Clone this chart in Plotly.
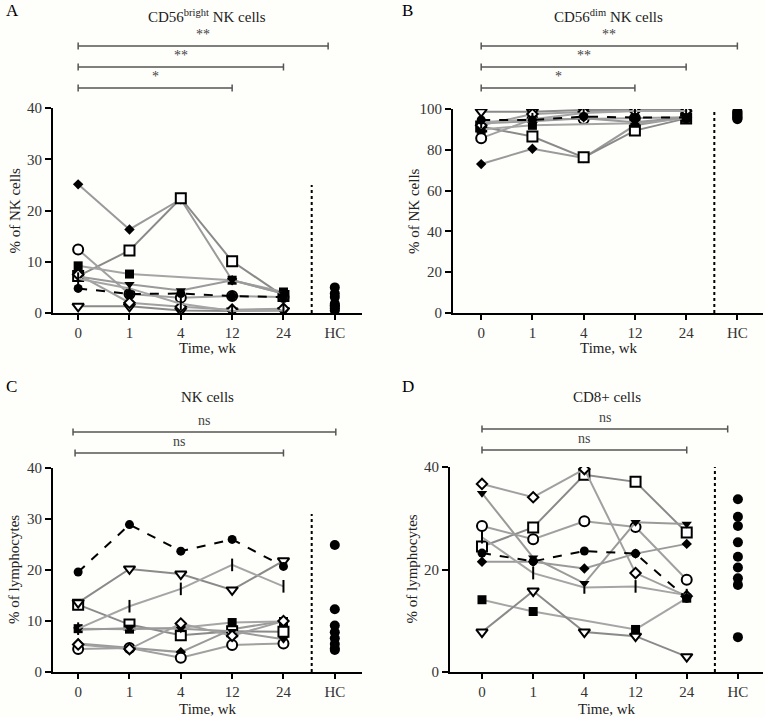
import plotly.graph_objects as go

# ---------------- data ----------------
TIME_LABELS = ["0", "1", "4", "12", "24"]
HC_LABEL = "HC"

# Panel A: CD56bright NK cells (% of NK cells)
A_P1 = [25.1, 16.3, 22.2, 6.4, 3.8]
A_P2 = [7.2, 12.2, 22.4, 10.1, 3.3]
A_P3 = [12.4, 3.7, 3.0, 3.3, 3.1]
A_P4 = [9.2, 7.6, None, 6.4, 4.1]
A_P5 = [4.8, 3.7, 3.8, 3.3, 3.1]
A_P6 = [1.3, 1.3, 0.5, 0.4, 0.5]
A_P7 = [7.1, 5.6, 4.4, 6.4, 3.8]
A_P8 = [7.5, 2.0, 1.2, 0.65, 0.85]
A_P9 = [6.7, 4.8, 1.8, 0.4, 0.5]
A_HC = [5.0, 3.8, 3.1, 1.8, 1.5, 1.2, 0.9, 0.5]

# Panel B: CD56dim NK cells (% of NK cells)
B_P1 = [73.0, 80.5, 76.0, 92.0, 96.0]
B_P2 = [91.4, 86.5, 76.3, 89.4, 95.4]
B_P3 = [85.7, 95.0, 95.1, 95.5, 96.0]
B_P4 = [90.0, 92.0, None, 93.0, 95.5]
B_P5 = [94.6, 94.6, 96.3, 95.8, 95.8]
B_P6 = [98.7, 98.7, 99.5, 99.5, 99.5]
B_P7 = [93.0, 94.0, 95.5, 93.5, 96.0]
B_P8 = [92.0, 97.5, 98.5, 99.0, 99.0]
B_P9 = [93.5, 95.0, 98.0, 99.0, 99.0]
B_HC = [99.0, 98.5, 98.0, 97.5, 97.0, 96.5, 96.0, 95.5, 95.0]

# Panel C: NK cells (% of lymphocytes)
C_P1 = [5.6, 4.7, 3.9, 8.4, 10.0]
C_P2 = [13.2, 9.3, 7.2, 8.0, 7.9]
C_P3 = [4.5, 4.7, 2.8, 5.3, 5.6]
C_P4 = [8.5, 8.4, 8.7, 9.7, 9.9]
C_P5 = [19.6, 28.9, 23.7, 26.0, 20.7]
C_P6 = [13.6, 20.2, 19.2, 16.1, 21.8]
C_P7 = [8.3, 8.6, 8.5, 8.0, 6.4]
C_P8 = [5.4, 4.5, 9.5, 7.1, 10.0]
C_P9 = [8.5, 12.9, 16.3, 21.0, 16.8]
C_HC = [24.9, 12.3, 9.1, 7.8, 6.6, 5.5, 4.6, 4.3]

# Panel D: CD8+ cells (% of lymphocytes)
D_P1 = [21.5, 21.5, 20.2, 23.1, 25.0]
D_P2 = [24.5, 28.2, 38.5, 37.1, 27.2]
D_P3 = [28.5, 25.9, 29.4, 28.3, 18.0]
D_P4 = [14.1, 11.8, None, 8.3, 14.4]
D_P5 = [23.2, 21.6, 23.6, 23.1, 14.4]
D_P6 = [7.8, 15.8, 7.8, 7.0, 3.0]
D_P7 = [34.9, 22.3, 17.3, 29.2, 28.9]
D_P8 = [36.7, 34.1, 39.6, 19.3, 14.8]
D_P9 = [26.3, 19.3, 16.5, 16.7, 15.0]
D_HC = [33.7, 30.3, 28.5, 25.3, 22.5, 20.4, 18.3, 17.0, 6.8]

# ---------------- styles ----------------
FONT = "Liberation Serif"
BG = "#fefefb"

STYLE = {
    "P1": dict(symbol="diamond", size=8, color="black", lw=0, line="#9a9a9a"),
    "P2": dict(symbol="square", size=10, color="white", lw=2, line="#8a8a8a"),
    "P3": dict(symbol="circle", size=10, color="white", lw=2, line="#a0a0a0"),
    "P4": dict(symbol="square", size=9, color="black", lw=0, line="#a5a5a5"),
    "P5": dict(symbol="circle", size=9, color="black", lw=0, line="black", dash="dash"),
    "P6": dict(symbol="triangle-down", size=10, color="white", lw=2, line="#8a8a8a"),
    "P7": dict(symbol="triangle-down", size=9, color="black", lw=0, line="#9a9a9a"),
    "P8": dict(symbol="diamond", size=8, color="white", lw=2, line="#a0a0a0"),
    "P9": dict(symbol="line-ns", size=9, color="black", lw=2, line="#a5a5a5"),
}

DRAW_ORDER = ["P1", "P2", "P3", "P4", "P6", "P7", "P8", "P9", "P5"]

PANELS = [
    dict(key="A", series=dict(P1=A_P1, P2=A_P2, P3=A_P3, P4=A_P4, P5=A_P5, P6=A_P6, P7=A_P7, P8=A_P8, P9=A_P9),
         hc=A_HC, title="CD56<sup>bright</sup> NK cells", ytitle="% of NK cells",
         yrange=[0, 40], ytick=10, xdom=[53, 362], ydom=[313, 108], xr=[-0.49, 5.53],
         dotted_top=25, title_y=16, xlabel_y=348,
         brackets=[(0, 4.87, 46, "**"), (0, 4.0, 67, "**"), (0, 3.0, 88, "*")],
         letter_xy=(4, 10)),
    dict(key="B", series=dict(P1=B_P1, P2=B_P2, P3=B_P3, P4=B_P4, P5=B_P5, P6=B_P6, P7=B_P7, P8=B_P8, P9=B_P9),
         hc=B_HC, title="CD56<sup>dim</sup> NK cells", ytitle="% of NK cells",
         yrange=[0, 100], ytick=20, xdom=[453, 763], ydom=[313, 109], xr=[-0.55, 5.5],
         dotted_top=100, title_y=16, xlabel_y=348,
         brackets=[(0, 5.0, 46, "**"), (0, 4.0, 67, "**"), (0, 3.0, 88, "*")],
         letter_xy=(400, 10)),
    dict(key="C", series=dict(P1=C_P1, P2=C_P2, P3=C_P3, P4=C_P4, P5=C_P5, P6=C_P6, P7=C_P7, P8=C_P8, P9=C_P9),
         hc=C_HC, title="NK cells", ytitle="% of lymphocytes",
         yrange=[0, 40], ytick=10, xdom=[53, 362], ydom=[672, 468], xr=[-0.49, 5.53],
         dotted_top=31, title_y=397, xlabel_y=709,
         brackets=[(-0.1, 5.02, 432, "ns"), (-0.06, 4.0, 453, "ns")],
         letter_xy=(4, 386)),
    dict(key="D", series=dict(P1=D_P1, P2=D_P2, P3=D_P3, P4=D_P4, P5=D_P5, P6=D_P6, P7=D_P7, P8=D_P8, P9=D_P9),
         hc=D_HC, title="CD8+ cells", ytitle="% of lymphocytes",
         yrange=[0, 40], ytick=20, xdom=[450, 763], ydom=[672, 467], xr=[-0.625, 5.49],
         dotted_top=40, title_y=397, xlabel_y=709,
         brackets=[(0, 4.8, 429, "ns"), (0, 4.0, 450, "ns")],
         letter_xy=(400, 386)),
]

W, H = 765, 717


def px_x(p):
    return p / W


def px_y(p):
    return 1 - p / H


fig = go.Figure()
shapes = []
annotations = []
x_positions = list(range(len(TIME_LABELS)))
hc_pos = len(TIME_LABELS)
tick_text = TIME_LABELS + [HC_LABEL]

for i, pnl in enumerate(PANELS):
    n = "" if i == 0 else str(i + 1)
    xa, ya = "x" + n, "y" + n
    for pid in DRAW_ORDER:
        st = STYLE[pid]
        fig.add_trace(go.Scatter(
            x=x_positions, y=pnl["series"][pid], xaxis=xa, yaxis=ya,
            mode="lines+markers", connectgaps=True, showlegend=False,
            line=dict(color=st["line"], width=2, dash=st.get("dash", "solid")),
            marker=dict(symbol=st["symbol"], size=st["size"], color=st["color"],
                        line=dict(color="black", width=st["lw"])),
        ))
    fig.add_trace(go.Scatter(
        x=[hc_pos] * len(pnl["hc"]), y=pnl["hc"], xaxis=xa, yaxis=ya,
        mode="markers", showlegend=False,
        marker=dict(symbol="circle", size=10, color="black"),
    ))
    fig.layout["xaxis" + n] = dict(
        domain=[px_x(pnl["xdom"][0]), px_x(pnl["xdom"][1])], range=pnl["xr"],
        anchor=ya, tickmode="array", tickvals=x_positions + [hc_pos], ticktext=tick_text,
        showline=True, linecolor="black", linewidth=2, ticks="outside", ticklen=5,
        tickwidth=2, tickcolor="black", showgrid=False, zeroline=False, automargin=False,
        tickfont=dict(family=FONT, size=15, color="#333"), fixedrange=True,
    )
    fig.layout["yaxis" + n] = dict(
        domain=[px_y(pnl["ydom"][0]), px_y(pnl["ydom"][1])], range=pnl["yrange"],
        anchor=xa, dtick=pnl["ytick"], tick0=0,
        showline=True, linecolor="black", linewidth=2, ticks="outside", ticklen=6,
        tickwidth=2, tickcolor="black", showgrid=False, zeroline=False, automargin=False,
        tickfont=dict(family=FONT, size=15, color="#333"), fixedrange=True,
    )
    # dotted separator
    shapes.append(dict(type="line", xref=xa, yref=ya, x0=4.55, x1=4.55, y0=0,
                       y1=pnl["dotted_top"], line=dict(color="black", width=2, dash="dot")))
    # significance brackets
    for (x0, x1, py, lab) in pnl["brackets"]:
        yy = px_y(py)
        half = 3.5 / H
        shapes.append(dict(type="line", xref=xa, yref="paper", x0=x0, x1=x1, y0=yy, y1=yy,
                           line=dict(color="#555", width=1.5)))
        for xe in (x0, x1):
            shapes.append(dict(type="line", xref=xa, yref="paper", x0=xe, x1=xe,
                               y0=yy - half, y1=yy + half, line=dict(color="#555", width=1.5)))
        annotations.append(dict(xref=xa, yref="paper", x=(x0 + x1) / 2, y=yy + 2 / H,
                                text=lab, showarrow=False, xanchor="center", yanchor="bottom",
                                font=dict(family=FONT, size=14, color="#444")))
    xc = (pnl["xdom"][0] + pnl["xdom"][1]) / 2
    # panel title
    annotations.append(dict(xref="paper", yref="paper", x=px_x(xc), y=px_y(pnl["title_y"]),
                            text=pnl["title"], showarrow=False, xanchor="center", yanchor="middle",
                            font=dict(family=FONT, size=15, color="#222")))
    # x axis title
    annotations.append(dict(xref="paper", yref="paper", x=px_x(xc), y=px_y(pnl["xlabel_y"]),
                            text="Time, wk", showarrow=False, xanchor="center", yanchor="middle",
                            font=dict(family=FONT, size=15, color="#222")))
    # y axis title
    yc = (pnl["ydom"][0] + pnl["ydom"][1]) / 2
    annotations.append(dict(xref="paper", yref="paper", x=px_x(pnl["xdom"][0] - 39), y=px_y(yc),
                            text=pnl["ytitle"], showarrow=False, textangle=-90,
                            xanchor="center", yanchor="middle",
                            font=dict(family=FONT, size=15, color="#222")))
    # panel letter
    lx, ly = pnl["letter_xy"]
    annotations.append(dict(xref="paper", yref="paper", x=px_x(lx), y=px_y(ly),
                            text=pnl["key"], showarrow=False, xanchor="left", yanchor="middle",
                            font=dict(family=FONT, size=17, color="black")))

fig.update_layout(
    width=W, height=H, margin=dict(l=0, r=0, t=0, b=0, autoexpand=False),
    paper_bgcolor=BG, plot_bgcolor=BG,
    shapes=shapes, annotations=annotations, showlegend=False,
)

fig.write_html(
    "out.html",
    config={"displayModeBar": False, "staticPlot": True},
    post_script="document.body.style.margin='0px';document.body.style.padding='0px';"
                "document.body.style.background='#fefefb';document.body.style.overflow='hidden';",
)
